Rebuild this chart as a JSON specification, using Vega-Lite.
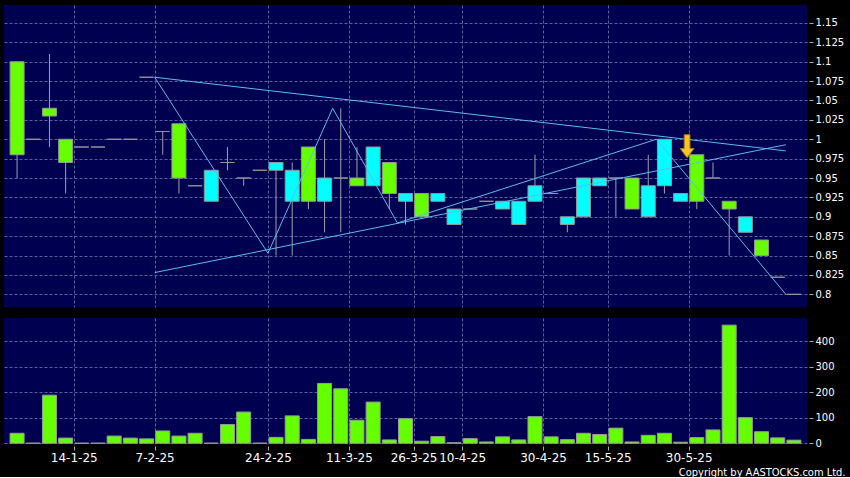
{
  "$schema": "https://vega.github.io/schema/vega-lite/v6.json",
  "background": "#000000",
  "padding": {"left": 4, "top": 5, "right": 10, "bottom": 0},
  "spacing": 11,
  "datasets": {
    "k": [
      {"i": 0, "o": 1.10, "h": 1.10, "l": 0.95, "c": 0.98, "v": 39},
      {"i": 1, "o": 1.00, "h": 1.00, "l": 1.00, "c": 1.00, "v": 0},
      {"i": 2, "o": 1.04, "h": 1.11, "l": 0.99, "c": 1.03, "v": 188},
      {"i": 3, "o": 1.00, "h": 1.00, "l": 0.93, "c": 0.97, "v": 20},
      {"i": 4, "o": 0.99, "h": 0.99, "l": 0.99, "c": 0.99, "v": 0},
      {"i": 5, "o": 0.99, "h": 0.99, "l": 0.99, "c": 0.99, "v": 0},
      {"i": 6, "o": 1.00, "h": 1.00, "l": 1.00, "c": 1.00, "v": 28},
      {"i": 7, "o": 1.00, "h": 1.00, "l": 1.00, "c": 1.00, "v": 20},
      {"i": 8, "o": 1.08, "h": 1.08, "l": 1.08, "c": 1.08, "v": 17},
      {"i": 9, "o": 1.01, "h": 1.01, "l": 0.98, "c": 1.01, "v": 48},
      {"i": 10, "o": 1.02, "h": 1.02, "l": 0.93, "c": 0.95, "v": 28},
      {"i": 11, "o": 0.94, "h": 0.94, "l": 0.94, "c": 0.94, "v": 39},
      {"i": 12, "o": 0.92, "h": 0.96, "l": 0.92, "c": 0.96, "v": 0},
      {"i": 13, "o": 0.97, "h": 0.99, "l": 0.96, "c": 0.97, "v": 73},
      {"i": 14, "o": 0.95, "h": 0.95, "l": 0.94, "c": 0.95, "v": 122},
      {"i": 15, "o": 0.96, "h": 0.96, "l": 0.96, "c": 0.96, "v": 0},
      {"i": 16, "o": 0.96, "h": 0.97, "l": 0.85, "c": 0.97, "v": 23},
      {"i": 17, "o": 0.92, "h": 0.97, "l": 0.85, "c": 0.96, "v": 107},
      {"i": 18, "o": 0.99, "h": 0.99, "l": 0.91, "c": 0.92, "v": 15},
      {"i": 19, "o": 0.92, "h": 1.00, "l": 0.88, "c": 0.95, "v": 234},
      {"i": 20, "o": 0.95, "h": 1.04, "l": 0.88, "c": 0.95, "v": 213},
      {"i": 21, "o": 0.95, "h": 0.99, "l": 0.94, "c": 0.94, "v": 90},
      {"i": 22, "o": 0.94, "h": 0.99, "l": 0.94, "c": 0.99, "v": 161},
      {"i": 23, "o": 0.97, "h": 0.97, "l": 0.91, "c": 0.93, "v": 13},
      {"i": 24, "o": 0.92, "h": 0.93, "l": 0.89, "c": 0.93, "v": 96},
      {"i": 25, "o": 0.93, "h": 0.93, "l": 0.90, "c": 0.90, "v": 8},
      {"i": 26, "o": 0.92, "h": 0.93, "l": 0.92, "c": 0.93, "v": 26},
      {"i": 27, "o": 0.89, "h": 0.91, "l": 0.89, "c": 0.91, "v": 2},
      {"i": 28, "o": 0.91, "h": 0.91, "l": 0.91, "c": 0.91, "v": 18},
      {"i": 29, "o": 0.92, "h": 0.92, "l": 0.92, "c": 0.92, "v": 5},
      {"i": 30, "o": 0.91, "h": 0.92, "l": 0.91, "c": 0.92, "v": 25},
      {"i": 31, "o": 0.89, "h": 0.92, "l": 0.89, "c": 0.92, "v": 13},
      {"i": 32, "o": 0.92, "h": 0.98, "l": 0.92, "c": 0.94, "v": 104},
      {"i": 33, "o": 0.93, "h": 0.93, "l": 0.93, "c": 0.93, "v": 25},
      {"i": 34, "o": 0.89, "h": 0.90, "l": 0.88, "c": 0.90, "v": 14},
      {"i": 35, "o": 0.90, "h": 0.95, "l": 0.90, "c": 0.95, "v": 39},
      {"i": 36, "o": 0.94, "h": 0.95, "l": 0.94, "c": 0.95, "v": 34},
      {"i": 37, "o": 0.95, "h": 0.95, "l": 0.90, "c": 0.95, "v": 59},
      {"i": 38, "o": 0.95, "h": 0.95, "l": 0.91, "c": 0.91, "v": 5},
      {"i": 39, "o": 0.90, "h": 0.98, "l": 0.90, "c": 0.94, "v": 31},
      {"i": 40, "o": 0.94, "h": 1.00, "l": 0.93, "c": 1.00, "v": 39},
      {"i": 41, "o": 0.92, "h": 0.93, "l": 0.92, "c": 0.93, "v": 4},
      {"i": 42, "o": 0.98, "h": 0.98, "l": 0.91, "c": 0.92, "v": 22},
      {"i": 43, "o": 0.95, "h": 0.97, "l": 0.95, "c": 0.95, "v": 52},
      {"i": 44, "o": 0.92, "h": 0.92, "l": 0.85, "c": 0.91, "v": 462},
      {"i": 45, "o": 0.88, "h": 0.90, "l": 0.88, "c": 0.90, "v": 100},
      {"i": 46, "o": 0.87, "h": 0.87, "l": 0.85, "c": 0.85, "v": 45},
      {"i": 47, "o": 0.822, "h": 0.822, "l": 0.822, "c": 0.822, "v": 21},
      {"i": 48, "o": 0.80, "h": 0.80, "l": 0.80, "c": 0.80, "v": 12}
    ],
    "lines": [
      {"g": "top", "s": 8.5, "p": 1.08},
      {"g": "top", "s": 47.5, "p": 0.985},
      {"g": "bottom", "s": 8.5, "p": 0.828},
      {"g": "bottom", "s": 47.5, "p": 0.993},
      {"g": "zig", "s": 8.5, "p": 1.08},
      {"g": "zig", "s": 15.5, "p": 0.853},
      {"g": "zig", "s": 19.5, "p": 1.04},
      {"g": "zig", "s": 23.5, "p": 0.892},
      {"g": "zig", "s": 39.5, "p": 1.0},
      {"g": "zig", "s": 47.5, "p": 0.8}
    ],
    "arrow": [{"s": 41.4, "p": 0.991}]
  },
  "config": {
    "view": {"fill": "#000050", "stroke": null},
    "axis": {
      "labelColor": "#ffffff",
      "labelFont": "DejaVu Sans",
      "tickColor": "#aaaaaa",
      "gridColor": "#5f5fa0",
      "gridDash": [3, 2],
      "gridWidth": 1,
      "domain": false,
      "labelOverlap": false
    }
  },
  "vconcat": [
    {
      "width": 803,
      "height": 302,
      "layer": [
        {
          "data": {"name": "k"},
          "mark": {"type": "rule", "color": "#a0a0a8", "strokeWidth": 1},
          "encoding": {
            "x": {
              "field": "i", "type": "quantitative",
              "scale": {"domain": [-0.5, 48.5], "nice": false, "zero": false},
              "axis": {"title": null, "values": [3.5, 8.5, 15.5, 20.5, 24.5, 27.5, 32.5, 36.5, 41.5], "tickCount": 30, "labels": false, "ticks": false, "grid": true}
            },
            "y": {
              "field": "l", "type": "quantitative",
              "scale": {"domain": [0.7836, 1.1732], "nice": false, "zero": false},
              "axis": {"title": null, "orient": "right", "values": [0.8, 0.825, 0.85, 0.875, 0.9, 0.925, 0.95, 0.975, 1, 1.025, 1.05, 1.075, 1.1, 1.125, 1.15], "tickCount": 30, "labelExpr": "datum.value + ''", "offset": 2, "tickSize": 4, "labelPadding": 2, "labelFontSize": 10, "labelOverlap": false, "labelFlush": false, "grid": true}
            },
            "y2": {"field": "h"}
          }
        },
        {
          "data": {"name": "k"},
          "mark": {"type": "bar", "size": 14, "stroke": "#959595", "strokeWidth": 1},
          "encoding": {
            "x": {"field": "i", "type": "quantitative"},
            "y": {"field": "o", "type": "quantitative"},
            "y2": {"field": "c"},
            "fill": {"condition": {"test": "datum.c < datum.o", "value": "#66ff00"}, "value": "#00ffff"}
          }
        },
        {
          "data": {"name": "lines"},
          "mark": {"type": "line", "color": "#5bbcf0", "strokeWidth": 1},
          "encoding": {
            "x": {"field": "s", "type": "quantitative"},
            "y": {"field": "p", "type": "quantitative"},
            "detail": {"field": "g"}
          }
        },
        {
          "data": {"name": "arrow"},
          "mark": {"type": "point", "shape": "M-0.25,-1 L0.25,-1 L0.25,0.2 L0.6,0.2 L0,1 L-0.6,0.2 L-0.25,0.2 Z", "size": 529, "filled": true, "fill": "#f7c520", "stroke": "#b07a10", "strokeWidth": 1, "opacity": 1},
          "encoding": {
            "x": {"field": "s", "type": "quantitative"},
            "y": {"field": "p", "type": "quantitative"}
          }
        }
      ]
    },
    {
      "width": 803,
      "height": 126,
      "data": {"name": "k"},
      "mark": {"type": "bar", "size": 14, "fill": "#66ff00", "stroke": "#9a9a9a", "strokeWidth": 1},
      "encoding": {
        "x": {
          "field": "i", "type": "quantitative",
          "scale": {"domain": [-0.5, 48.5], "nice": false, "zero": false},
          "axis": {
            "values": [3.5, 8.5, 15.5, 20.5, 24.5, 27.5, 32.5, 36.5, 41.5],
            "tickCount": 30,
            "labelExpr": "['14-1-25','7-2-25','24-2-25','11-3-25','26-3-25','10-4-25','30-4-25','15-5-25','30-5-25'][indexof([3.5,8.5,15.5,20.5,24.5,27.5,32.5,36.5,41.5], datum.value)]",
            "labelOverlap": false, "labelFlush": false, "labelFontSize": 12,
            "offset": 2, "tickSize": 4, "labelPadding": 2, "grid": true,
            "title": "Copyright by AASTOCKS.com Ltd.",
            "titleColor": "#ffffff",
            "titleFont": "'DejaVu Sans Condensed', 'Liberation Sans Narrow', 'Liberation Sans'",
            "titleFontSize": 11, "titleFontWeight": "normal",
            "titleAnchor": "end", "titleAlign": "right", "titleBaseline": "alphabetic",
            "titleX": 841, "titleY": 29
          }
        },
        "y": {
          "field": "v", "type": "quantitative",
          "scale": {"domain": [-3, 490], "nice": false, "zero": false},
          "axis": {"title": null, "orient": "right", "values": [0, 100, 200, 300, 400], "tickCount": 20, "offset": 2, "tickSize": 4, "labelPadding": 2, "labelFontSize": 10, "grid": true}
        },
        "y2": {"datum": 0}
      }
    }
  ]
}
